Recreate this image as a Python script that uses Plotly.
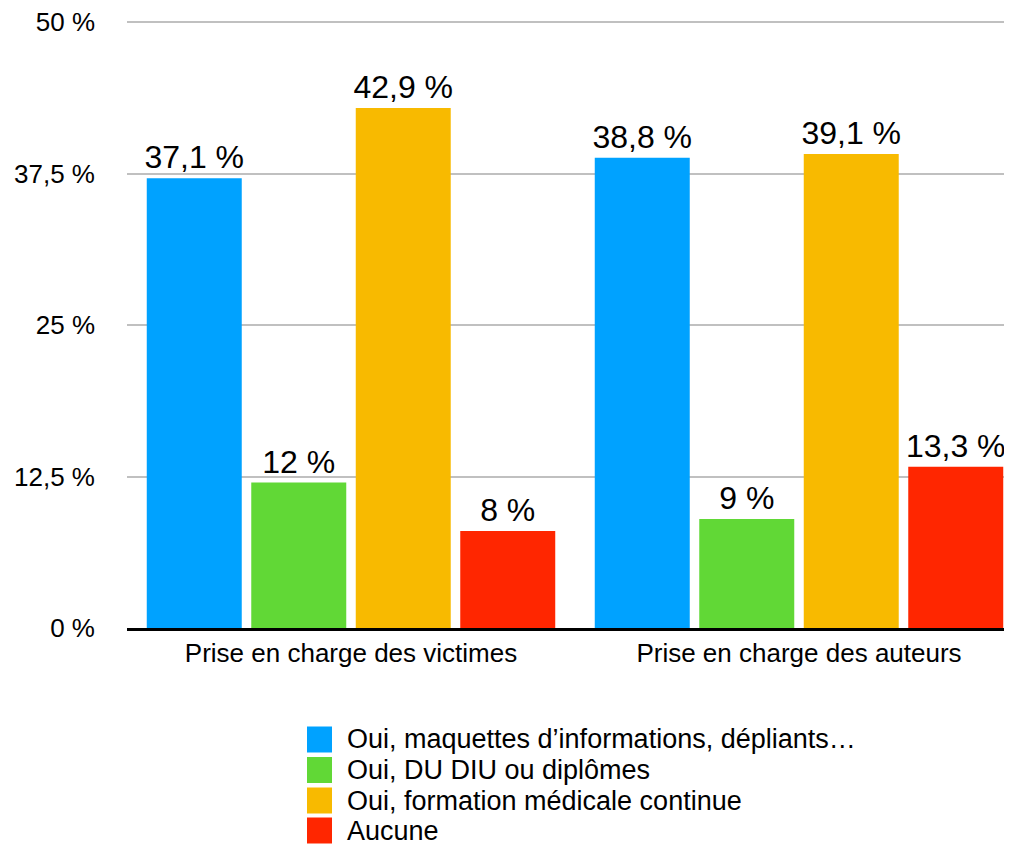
import plotly.graph_objects as go

categories = ["Prise en charge des victimes", "Prise en charge des auteurs"]
series_names = [
    "Oui, maquettes d’informations, dépliants…",
    "Oui, DU DIU ou diplômes",
    "Oui, formation médicale continue",
    "Aucune",
]
maquettes = [37.1, 38.8]
diplomes = [12.0, 9.0]
fmc = [42.9, 39.1]
aucune = [8.0, 13.3]
colors = ["#00A2FF", "#61D836", "#F8BA00", "#FF2600"]
tick_vals = [0, 12.5, 25, 37.5, 50]

FONT = "Liberation Sans, Arial, Helvetica, sans-serif"


def fmt(v):
    return f"{v:g}".replace(".", ",") + " %"


# page body has an 8px margin; compensate so page coords match the reference
OFF = 8
W, H = 1012 - OFF, 846 - OFF
PX_PER_UNIT = 606 / 50.0           # y scale (0% at 628, 50% at 22 in page px)
ML = 127 - OFF
MT = 12
BOTTOM = 628 - OFF                 # plot bottom in figure px
MB = H - BOTTOM
MR = 0
PW, PH = W - ML - MR, BOTTOM - MT
YMAX = PH / PX_PER_UNIT
CAT_PX = 448.0

fig = go.Figure()
for name, vals, col in zip(series_names, [maquettes, diplomes, fmc, aucune], colors):
    fig.add_trace(go.Bar(
        x=categories, y=vals, name=name,
        marker=dict(color=col, line=dict(width=0)),
        text=[fmt(v) for v in vals],
        textposition="outside",
        textfont=dict(family=FONT, size=32, color="#000000"),
        constraintext="none",
        cliponaxis=False,
        showlegend=False,
        hoverinfo="skip",
    ))


# custom legend (styling only, paper coordinates)
def px2x(px):
    return (px - OFF - ML) / PW


def py2y(py):
    return (BOTTOM - (py - OFF)) / PH


shapes = []
annotations = []
leg_centers = [739.5, 770, 800.5, 830.5]
for name, col, cy in zip(series_names, colors, leg_centers):
    shapes.append(dict(type="rect", xref="paper", yref="paper",
                       x0=px2x(307), x1=px2x(332), y0=py2y(cy + 13), y1=py2y(cy - 13),
                       fillcolor=col, line=dict(width=0)))
    annotations.append(dict(xref="paper", yref="paper", x=px2x(346), y=py2y(cy),
                            xanchor="left", yanchor="middle", showarrow=False,
                            borderpad=0,
                            text=name, font=dict(family=FONT, size=27, color="#000000")))

fig.update_layout(
    width=W, height=H,
    margin=dict(l=ML, r=MR, t=MT, b=MB, pad=0),
    paper_bgcolor="white", plot_bgcolor="white",
    barmode="group", bargap=0.067, bargroupgap=0.091,
    font=dict(family=FONT, size=26, color="#000000"),
    showlegend=False,
    shapes=shapes,
    annotations=annotations,
    xaxis=dict(
        range=[-0.5, -0.5 + PW / CAT_PX],
        showgrid=False, zeroline=False,
        showline=True, linecolor="#000000", linewidth=2.5,
        ticks="", tickfont=dict(family=FONT, size=26, color="#000000"),
        ticklabelstandoff=0,
        fixedrange=True,
    ),
    yaxis=dict(
        range=[0, YMAX],
        tickvals=tick_vals, ticktext=[fmt(v) for v in tick_vals],
        showgrid=True, gridcolor="#C0C0C0", gridwidth=2,
        zeroline=False, showline=False,
        ticks="", tickfont=dict(family=FONT, size=26, color="#000000"),
        ticklabelstandoff=31,
        ticklabeloverflow="allow",
        fixedrange=True,
    ),
)

fig.write_html("out.html")
